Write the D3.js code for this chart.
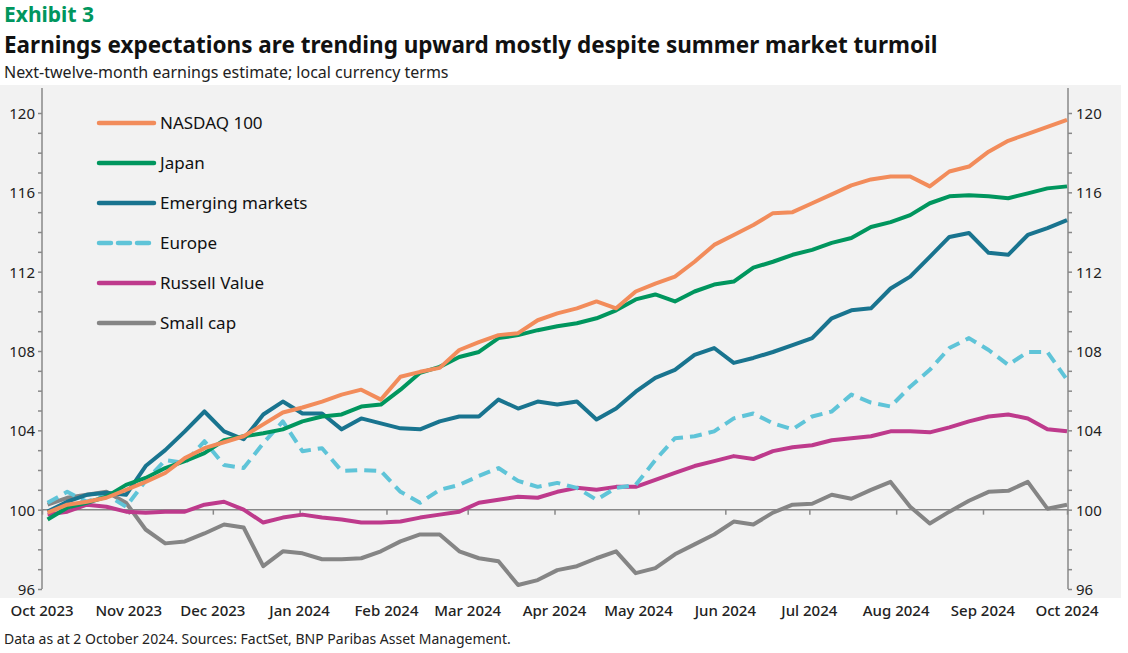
<!DOCTYPE html>
<html><head><meta charset="utf-8">
<script src="https://cdn.jsdelivr.net/npm/d3@7"></script>
<style>body{margin:0;background:#fff}svg{display:block}text{font-family:"Noto Sans",sans-serif}</style>
</head><body><svg id="c" width="1128" height="653"></svg>
<script>
const nasdaq=[99.85,100.25,100.4,100.6,101,101.4,101.85,102.6,103.1,103.4,103.7,104.3,104.9,105.15,105.45,105.8,106.05,105.55,106.7,106.95,107.15,108.05,108.45,108.8,108.9,109.55,109.9,110.15,110.5,110.15,111,111.4,111.75,112.5,113.35,113.85,114.35,114.95,115.0,115.45,115.9,116.35,116.65,116.8,116.8,116.3,117.05,117.3,118.05,118.6,118.95,119.3,119.65];
const japan=[99.5,100.1,100.35,100.65,101.25,101.6,102.1,102.45,102.85,103.5,103.7,103.85,104.05,104.45,104.7,104.8,105.2,105.3,106.05,106.9,107.2,107.7,107.95,108.65,108.8,109.05,109.25,109.4,109.65,110.05,110.6,110.85,110.5,111.0,111.35,111.5,112.2,112.5,112.85,113.1,113.45,113.7,114.25,114.5,114.85,115.45,115.8,115.85,115.8,115.7,115.95,116.2,116.3];
const emerging=[99.9,100.4,100.75,100.85,100.75,102.2,103.0,103.95,104.95,103.95,103.55,104.8,105.45,104.85,104.85,104.05,104.6,104.35,104.1,104.05,104.45,104.7,104.7,105.55,105.1,105.45,105.3,105.45,104.55,105.1,105.95,106.65,107.05,107.8,108.15,107.4,107.65,107.95,108.3,108.65,109.65,110.05,110.15,111.15,111.75,112.75,113.75,113.95,112.95,112.85,113.85,114.2,114.6];
const europe=[100.35,100.9,100.4,100.75,100.15,101.45,102.5,102.35,103.45,102.25,102.1,103.35,104.45,102.95,103.1,101.95,102.0,101.95,100.9,100.35,101.0,101.25,101.7,102.1,101.45,101.15,101.35,101.1,100.5,101.1,101.25,102.5,103.6,103.7,103.95,104.6,104.85,104.35,104.05,104.7,104.95,105.8,105.4,105.2,106.2,107.05,108.15,108.65,108.05,107.3,107.95,107.95,106.55];
const russell=[99.75,99.9,100.25,100.15,99.9,99.85,99.9,99.9,100.25,100.4,100.0,99.35,99.6,99.75,99.6,99.5,99.35,99.35,99.4,99.6,99.75,99.9,100.35,100.5,100.65,100.6,100.9,101.1,101.0,101.15,101.15,101.5,101.85,102.2,102.45,102.7,102.55,102.95,103.15,103.25,103.5,103.6,103.7,103.95,103.95,103.9,104.15,104.45,104.7,104.8,104.6,104.05,103.95];
const smallcap=[100.25,100.6,100.75,100.9,100.35,99.0,98.3,98.4,98.8,99.25,99.1,97.15,97.9,97.8,97.5,97.5,97.55,97.9,98.4,98.75,98.75,97.9,97.55,97.4,96.2,96.45,96.95,97.15,97.55,97.9,96.8,97.05,97.75,98.25,98.75,99.4,99.25,99.85,100.25,100.3,100.75,100.55,101.0,101.4,100.15,99.3,99.9,100.45,100.9,100.95,101.4,100.05,100.25];
const yTicks=[96,100,104,108,112,116,120];
const monthLabels=["Oct 2023","Nov 2023","Dec 2023","Jan 2024","Feb 2024","Mar 2024","Apr 2024","May 2024","Jun 2024","Jul 2024","Aug 2024","Sep 2024","Oct 2024"];
const series=[
 {name:"NASDAQ 100",v:nasdaq,c:"#f28c5b"},
 {name:"Japan",v:japan,c:"#00965e"},
 {name:"Emerging markets",v:emerging,c:"#19748f"},
 {name:"Europe",v:europe,c:"#5fc4d8",dash:"12,7"},
 {name:"Russell Value",v:russell,c:"#be3a8c"},
 {name:"Small cap",v:smallcap,c:"#858585"}];
const dates=nasdaq.map((_,i)=>d3.timeDay.offset(new Date(2023,9,3),7*i));
const svg=d3.select("#c");
svg.append("rect").attr("x",0).attr("y",85).attr("width",1121).attr("height",513).attr("fill","#f2f2f2");
svg.append("text").attr("x",4).attr("y",22).attr("font-size",21).attr("font-weight","bold").attr("fill","#00965e").text("Exhibit 3");
svg.append("text").attr("x",4).attr("y",53).attr("font-size",22.5).attr("font-weight","bold").attr("fill","#111").text("Earnings expectations are trending upward mostly despite summer market turmoil");
svg.append("text").attr("x",4).attr("y",78).attr("font-size",16).attr("fill","#222").text("Next-twelve-month earnings estimate; local currency terms");
svg.append("text").attr("x",4).attr("y",644).attr("font-size",14).attr("fill","#222").text("Data as at 2 October 2024.  Sources: FactSet, BNP Paribas Asset Management.");
const x=d3.scaleTime().domain([new Date(2023,9,1),new Date(2024,9,1)]).range([42,1067]);
const y=d3.scaleLinear().domain([96,120]).range([589,113]);
// left axis
const la=svg.append("g").attr("transform","translate(42,0)").call(d3.axisLeft(y).ticks(24).tickSize(4).tickFormat(""));
la.select(".domain").attr("d","M0,88V589");
svg.append("g").attr("transform","translate(1068,0)").call(d3.axisRight(y).ticks(24).tickSize(4).tickFormat("")).select(".domain").attr("d","M0,88V589");
svg.selectAll(".domain,.tick line").attr("stroke","#888").attr("stroke-width",1.5);
svg.selectAll("text.yl").data(yTicks).join("text").attr("x",35).attr("y",d=>y(d)+6).attr("text-anchor","end").attr("font-size",15).attr("fill","#222").text(d=>d);
svg.selectAll("text.yr").data(yTicks).join("text").attr("x",1076).attr("y",d=>y(d)+6).attr("font-size",15).attr("fill","#222").text(d=>d);
// baseline at 100 with month ticks
const months=d3.timeMonth.range(new Date(2023,9,1),new Date(2024,9,2));
const xa=svg.append("g").attr("transform",`translate(0,${y(100)})`).call(d3.axisBottom(x).tickValues(months).tickSize(5).tickFormat(""));
xa.select(".domain").attr("d",`M42,0H1068`);
xa.selectAll(".domain,.tick line").attr("stroke","#888").attr("stroke-width",1.5);
svg.selectAll("text.xl").data(months).join("text").attr("x",d=>x(d)).attr("y",616).attr("text-anchor","middle").attr("font-size",15).attr("font-weight",500).attr("fill","#222").text((d,i)=>monthLabels[i]);
const line=d3.line().x((d,i)=>x(dates[i])).y(d=>y(d));
series.slice().reverse().forEach(s=>{
 svg.append("path").attr("d",line(s.v)).attr("fill","none").attr("stroke",s.c).attr("stroke-width",4).attr("stroke-linejoin","round").attr("stroke-dasharray",s.dash||null);
});
series.forEach((s,i)=>{
 const yy=123+i*40;
 svg.append("line").attr("x1",99).attr("x2",154).attr("y1",yy).attr("y2",yy).attr("stroke",s.c).attr("stroke-width",4.5).attr("stroke-linecap","round").attr("stroke-dasharray",s.dash||null);
 svg.append("text").attr("x",160).attr("y",yy+6).attr("font-size",17).attr("fill","#111").text(s.name);
});
</script></body></html>
